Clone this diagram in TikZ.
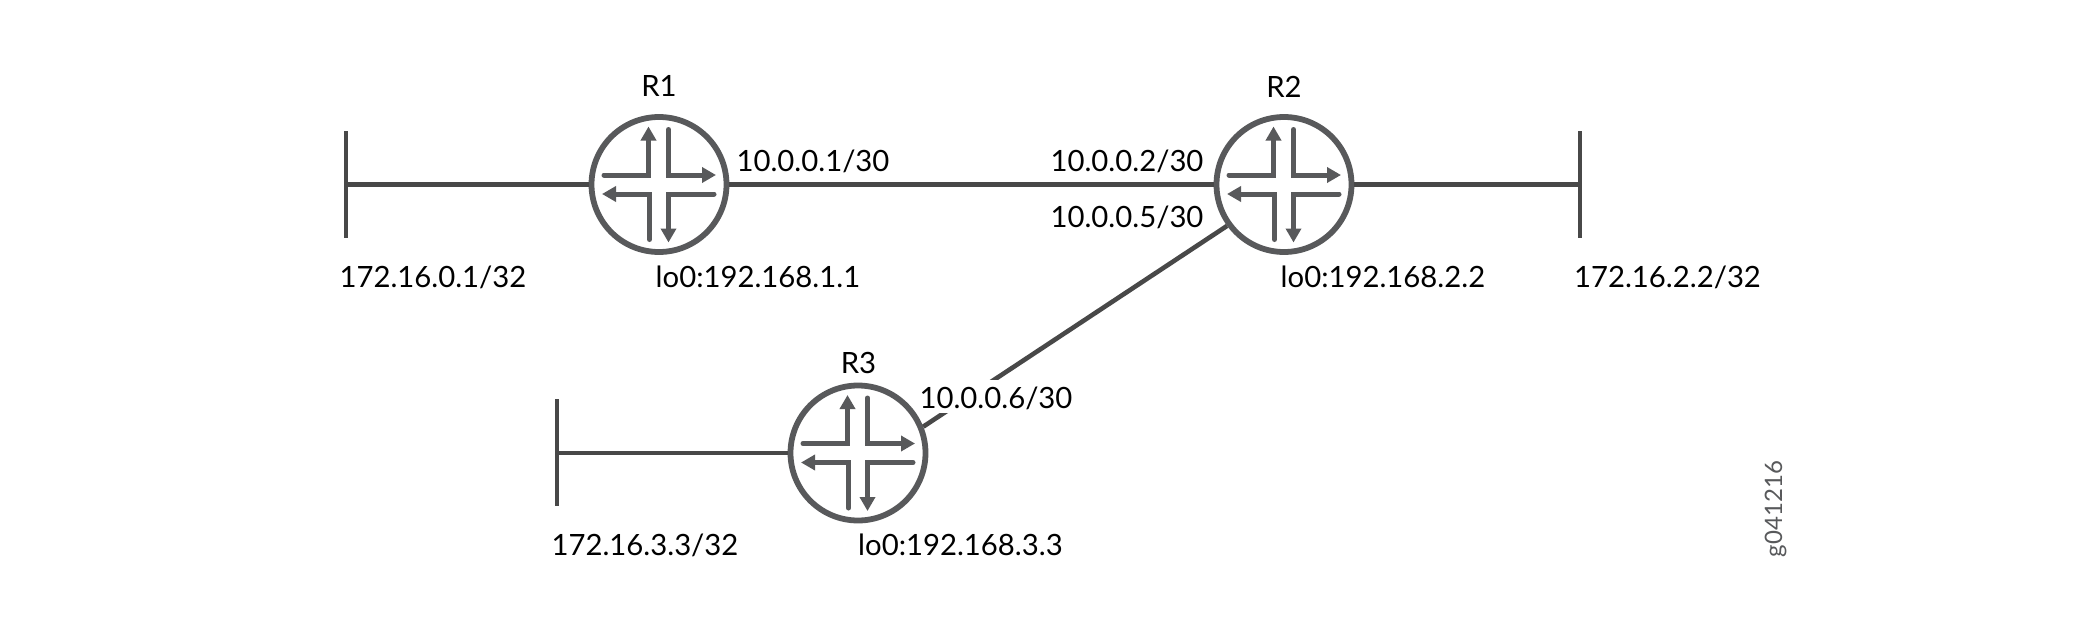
\documentclass[tikz,border=0pt]{standalone}
\usepackage{fontspec}
\setmainfont{Lato}
\usetikzlibrary{arrows.meta}
\definecolor{linkgray}{HTML}{484848}
\definecolor{icongray}{HTML}{58595B}
\tikzset{
  link/.style={draw=linkgray,line width=4.6pt},
  routerc/.style={circle,draw=icongray,line width=5.8pt,minimum size=135pt,inner sep=0pt,fill=white},
  flow/.style={draw=icongray,line width=5pt,line cap=round,line join=miter,-{Triangle[length=14pt,width=15pt]}},
  lbl/.style={font=\fontsize{29.3}{34}\selectfont,text=black,anchor=base,inner sep=0pt},
  halo/.style={lbl,fill=white,text height=28pt,text depth=5pt},
}
\newcommand{\routericon}[2]{%
  \begin{scope}[shift={(#1,#2)}]
    \draw[flow] (-55,-9.5) -- (-10.5,-9.5) -- (-10.5,-58);
    \draw[flow] (9.5,-55) -- (9.5,-9.5) -- (57,-9.5);
    \draw[flow] (55,9.5) -- (9.5,9.5) -- (9.5,58);
    \draw[flow] (-9.5,55) -- (-9.5,9.5) -- (-57,9.5);
  \end{scope}}
\begin{document}
\begin{tikzpicture}[x=1pt,y=-1pt]
\useasboundingbox (0,0) rectangle (2100,634);
% stubs
\coordinate (b1t) at (346,131); \coordinate (b1b) at (346,238); \coordinate (b1m) at (346,184.5);
\coordinate (b2t) at (1580,131); \coordinate (b2b) at (1580,238); \coordinate (b2m) at (1580,184.5);
\coordinate (b3t) at (557,399); \coordinate (b3b) at (557,506); \coordinate (b3m) at (557,453);
\node[routerc] (r1) at (659,184.5) {};
\node[routerc] (r2) at (1284,184.5) {};
\node[routerc] (r3) at (858,453) {};
\draw[link] (b1t) -- (b1b);
\draw[link] (b2t) -- (b2b);
\draw[link] (b3t) -- (b3b);
\draw[link] (b1m) -- (r1);
\draw[link] (r1) -- (r2);
\draw[link] (r2) -- (b2m);
\draw[link] (b3m) -- (r3);
\draw[link] (r2.216) -- (r3.22);
\routericon{659}{184.5}
\routericon{1284}{184.5}
\routericon{858}{453}
\node[lbl] (t1) at (659,96) {R1};
\node[lbl] (t2) at (1284,97) {R2};
\node[lbl] (t3) at (858.5,373) {R3};
\node[lbl] (a1) at (813,171) {10.0.0.1/30};
\node[lbl] (a2) at (1127,171) {10.0.0.2/30};
\node[lbl] (a3) at (1127,227) {10.0.0.5/30};
\node[halo] (a4) at (996,408) {10.0.0.6/30};
\node[lbl] (n1) at (433,287) {172.16.0.1/32};
\node[lbl] (l1) at (758,287) {lo0:192.168.1.1};
\node[lbl] (l2) at (1383,287) {lo0:192.168.2.2};
\node[lbl] (n2) at (1667.5,287) {172.16.2.2/32};
\node[lbl] (n3) at (645,555) {172.16.3.3/32};
\node[lbl] (l3) at (960.5,555) {lo0:192.168.3.3};
\node[font=\fontsize{24}{28}\selectfont,text=icongray,rotate=90,anchor=base,inner sep=0pt] (g) at (1782,509) {g041216};
\end{tikzpicture}
\end{document}
